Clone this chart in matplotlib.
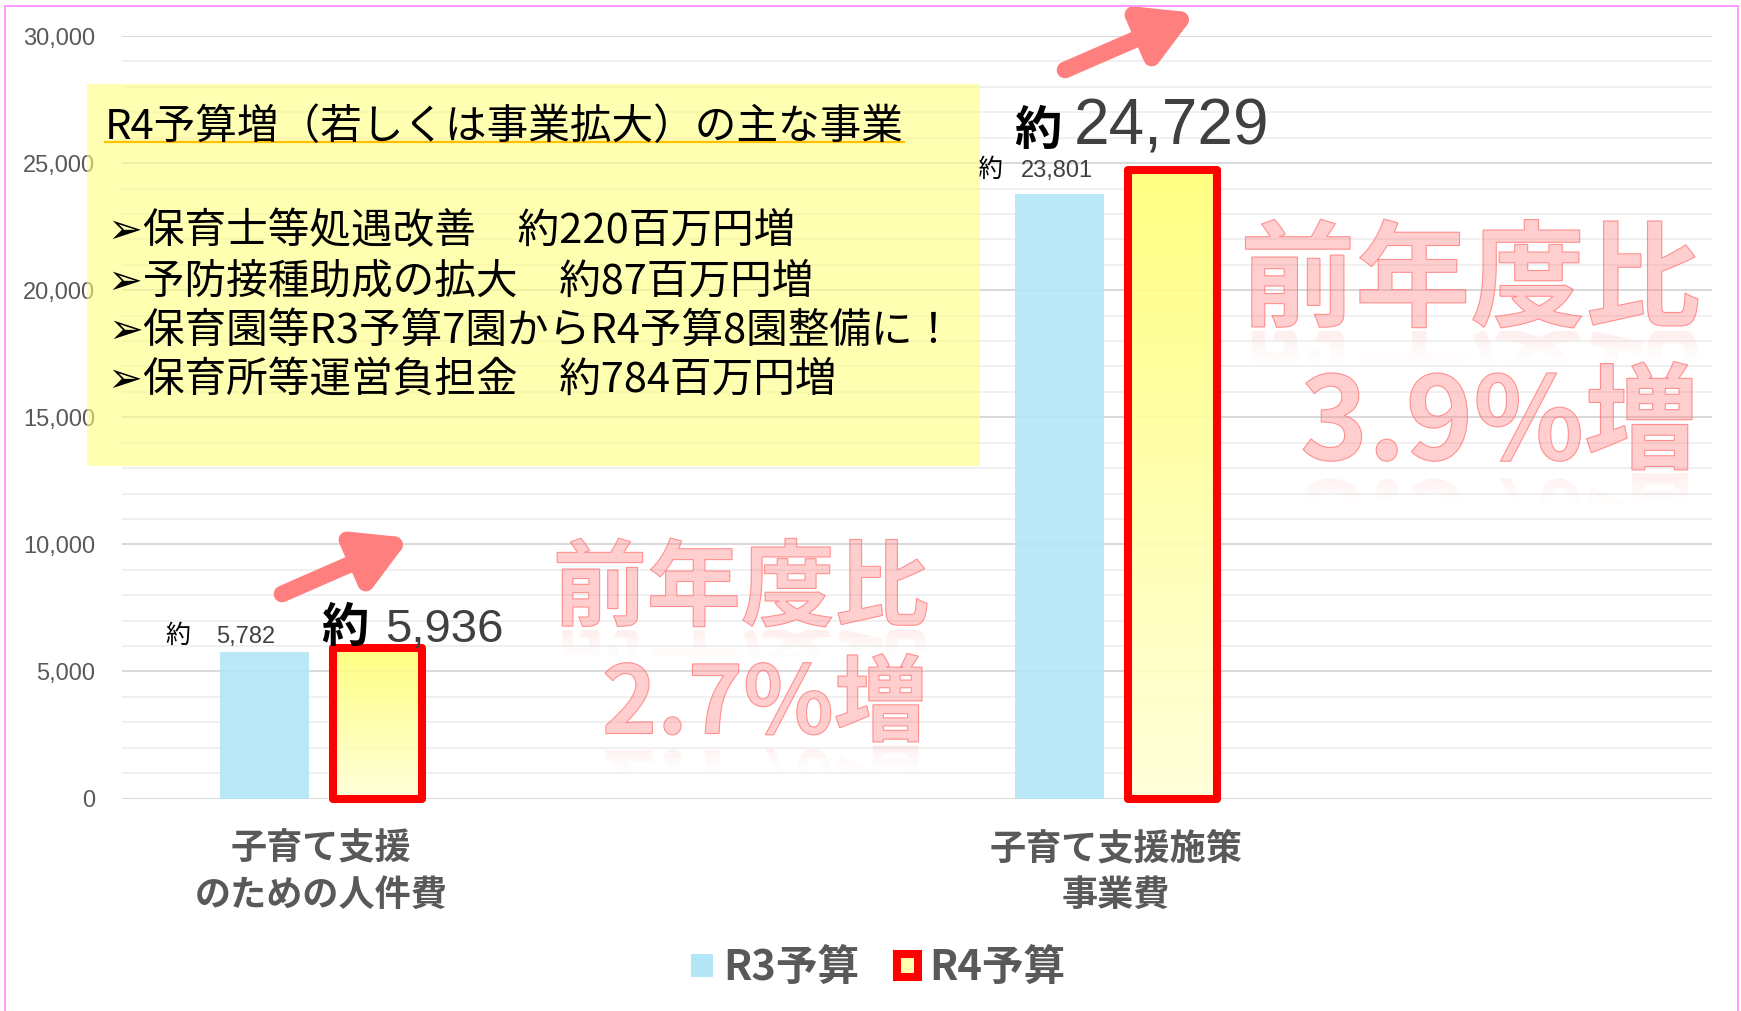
import matplotlib
matplotlib.use('Agg')
import matplotlib.pyplot as plt
import matplotlib.ticker as ticker
import numpy as np
from matplotlib.patches import Rectangle, FancyArrowPatch, PathPatch, Patch
from matplotlib.lines import Line2D
from matplotlib.textpath import TextPath
from matplotlib.font_manager import FontProperties
from matplotlib.transforms import Affine2D, IdentityTransform, Bbox
from matplotlib.colors import LinearSegmentedColormap

plt.rcParams['font.family'] = ['Noto Sans CJK JP', 'DejaVu Sans']

W, H, DPI = 1741, 1011, 100

# data
categories = ['子育て支援\nのための人件費', '子育て支援施策\n事業費']
series_names = ['R3予算', 'R4予算']
r3_values = [5782, 23801]
r4_values = [5936, 24729]
approx_word = '約'
box_title = 'R4予算増（若しくは事業拡大）の主な事業'
box_items = ['➢保育士等処遇改善　約220百万円増',
             '➢予防接種助成の拡大　約87百万円増',
             '➢保育園等R3予算7園からR4予算8園整備に！',
             '➢保育所等運営負担金　約784百万円増']
growth_text = [('前年度比', '2.7%増'), ('前年度比', '3.9%増')]

BLUE = '#b3e6f7'
GRAY = '#595959'


def fig_xy(x, y):
    # image pixels (top-left origin) -> figure fraction
    return x / W, 1 - y / H


fig = plt.figure(figsize=(W / DPI, H / DPI), dpi=DPI)
ax = fig.add_axes([122 / W, 1 - 798.5 / H, (1712 - 122) / W, (798.5 - 36) / H])

x = np.arange(len(categories))
off, bw = 0.071, 0.112
ax.bar(x - off, r3_values, bw, color=BLUE, alpha=0.9, zorder=2)
r4_bars = ax.bar(x + off, r4_values, bw, facecolor='none', edgecolor='#ff0000',
                 linewidth=5.8, joinstyle='round', zorder=4, clip_on=False)

yellow = LinearSegmentedColormap.from_list('yel', ['#ffffd8', '#ffff78'])
grad = np.linspace(0, 1, 256).reshape(-1, 1)
for b in r4_bars:
    ax.imshow(grad, cmap=yellow, origin='lower', aspect='auto', alpha=0.92, zorder=3,
              extent=[b.get_x(), b.get_x() + b.get_width(), 0, b.get_height()])

ax.set_xlim(-0.25, 1.75)
ax.set_ylim(0, 30000)
for s in ax.spines.values():
    s.set_visible(False)
ax.set_axisbelow(True)
ax.yaxis.set_major_locator(ticker.MultipleLocator(5000))
ax.yaxis.set_minor_locator(ticker.MultipleLocator(1000))
ax.yaxis.set_major_formatter(ticker.FuncFormatter(lambda v, p: f'{int(v):,}'))
ax.grid(True, axis='y', which='major', color='#d9d9d9', lw=1.4)
ax.grid(True, axis='y', which='minor', color='#f0f0f0', lw=1.4)
ax.tick_params(axis='both', which='both', length=0)
ax.tick_params(axis='y', labelsize=17, labelcolor=GRAY, pad=19.5)
plt.setp(ax.get_yticklabels(), family='Liberation Sans')
ax.set_xticks(x, categories, fontsize=26, fontweight='bold', color=GRAY, linespacing=1.32)
ax.tick_params(axis='x', pad=23)

# value labels: (values, series offset, per-bar (dx 約, dx number, dy), 約 size, 約 weight, number size)
label_layout = [
    (r3_values, -off, [(-99, -48, 8.5), (-82, -38, 16.5)], 18, 'normal', [17, 17]),
    (r4_values, off, [(-56, 8, 5.5), (-158, -98, 25)], 34, 'bold', [34, 46]),
]
for vals, so, offs, ysz, ywt, nsz in label_layout:
    for i, v in enumerate(vals):
        dxy, dxn, dy = offs[i]
        ax.annotate(approx_word, xy=(x[i] + so, v), xytext=(dxy, dy), textcoords='offset pixels',
                    ha='left', va='baseline', fontsize=ysz, fontweight=ywt, color='black',
                    annotation_clip=False, zorder=6)
        ax.annotate(f'{v:,}', xy=(x[i] + so, v), xytext=(dxn, dy), textcoords='offset pixels',
                    ha='left', va='baseline', fontsize=nsz[i], color='#404040',
                    family='Liberation Sans', annotation_clip=False, zorder=6)

# legend
handles = [Patch(facecolor=BLUE, edgecolor='none'),
           Patch(facecolor='#ffffb0', edgecolor='#ff0000', linewidth=5.8, joinstyle='round')]
fig.legend(handles, series_names, loc='center', bbox_to_anchor=fig_xy(878, 968), ncol=2,
           frameon=False, prop=FontProperties(family='Noto Sans CJK JP', weight='bold', size=30),
           labelcolor=GRAY, handlelength=0.52, handleheight=0.46, handletextpad=0.25,
           columnspacing=0.9, borderpad=0)

# yellow note box
bx0, by0 = fig_xy(87, 466)
fig.add_artist(Rectangle((bx0, by0), (980 - 87) / W, (466 - 84) / H, transform=fig.transFigure,
                         facecolor='#ffff80', alpha=0.6, lw=0, zorder=5))
title = fig.text(*fig_xy(105, 139), box_title, fontsize=30, va='baseline', ha='left', zorder=6)
for k, item in enumerate(box_items):
    fig.text(*fig_xy(108, 243 + 50 * k), item, fontsize=30, va='baseline', ha='left', zorder=6)

fig.canvas.draw()
tb = title.get_window_extent(fig.canvas.get_renderer())
fig.add_artist(Line2D([105 / W, tb.x1 / W], [1 - 142 / H] * 2, transform=fig.transFigure,
                      color='#ffc000', lw=1.6, zorder=6))

# word-art growth text with a faint reflection
wm_font = FontProperties(family='Noto Sans CJK JP', weight='bold')


def wordart(s, size, right, bottom):
    tp = TextPath((0, 0), s, size=size, prop=wm_font)
    ext = tp.get_extents()
    yb = H - bottom
    placed = Affine2D().translate(right - ext.x1, yb - ext.y0).transform_path(tp)
    mirrored = Affine2D().scale(1, -1).translate(0, 2 * yb).transform_path(placed)
    band = size * 0.28 / 4
    for i, a in enumerate([0.13, 0.08, 0.045, 0.02]):
        p = PathPatch(mirrored, facecolor=(1, 0.55, 0.55, a), edgecolor='none',
                      transform=IdentityTransform(), zorder=4)
        p.set_clip_box(Bbox.from_extents(0, yb - 3 - band * (i + 1), W, yb - 3 - band * i))
        fig.add_artist(p)
    fig.add_artist(PathPatch(placed, facecolor=(1, 0.55, 0.55, 0.42), edgecolor=(1, 0.45, 0.45, 0.75),
                             lw=0.8, transform=IdentityTransform(), zorder=4))


wordart(growth_text[0][0], 94, 927, 627)
wordart(growth_text[0][1], 94, 922, 742)
wordart(growth_text[1][0], 115, 1698, 328)
wordart(growth_text[1][1], 115, 1692, 470)

# pink arrows
for (x1, y1), (x2, y2) in [((282, 594), (410, 538)), ((1065, 70), (1196, 13))]:
    fig.add_artist(FancyArrowPatch((x1, H - y1), (x2, H - y2), transform=IdentityTransform(),
                                   arrowstyle='-|>,head_length=30,head_width=17', mutation_scale=1,
                                   lw=12, color='#ff7f7f', capstyle='round', joinstyle='round',
                                   shrinkA=0, shrinkB=0, zorder=7))

# thin pink frame
for xs, ys in [([5, 1738], [6, 6]), ([5, 5], [6, 1015]), ([1738, 1738], [6, 1015])]:
    fig.add_artist(Line2D([v / W for v in xs], [1 - v / H for v in ys], transform=fig.transFigure,
                          color='#ff99ff', lw=1.4, zorder=8))

fig.savefig('out.png', dpi=DPI)
